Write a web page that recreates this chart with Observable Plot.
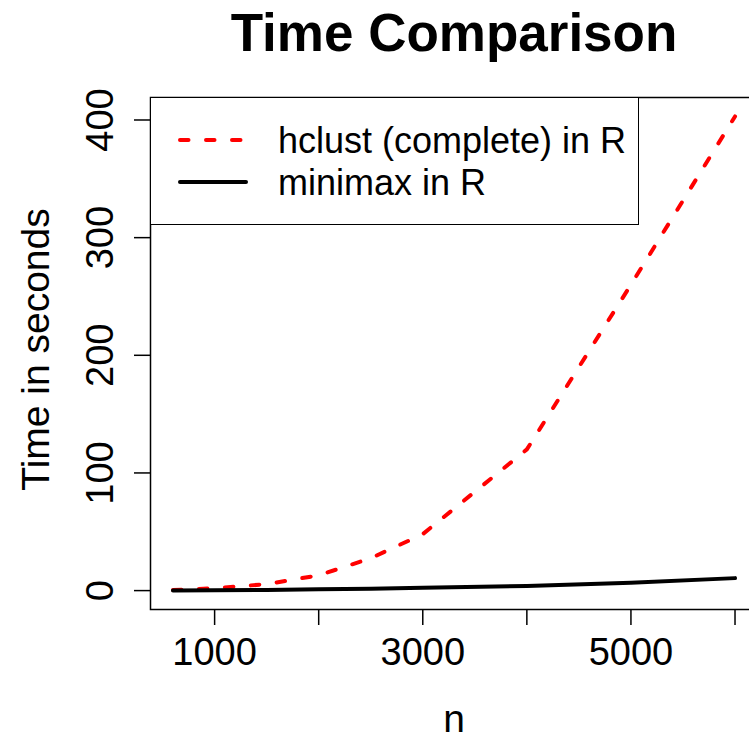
<!DOCTYPE html>
<html>
<head>
<meta charset="utf-8">
<script src="https://cdn.jsdelivr.net/npm/d3@7"></script>
<script src="https://cdn.jsdelivr.net/npm/@observablehq/plot@0.6"></script>
<style>
  body { margin: 0; background: #fff; }
  #wrap { position: relative; width: 749px; height: 738px; overflow: hidden;
          font-family: "Liberation Sans", Arial, Helvetica, sans-serif; background: #fff; }
  #legend { position: absolute; left: 150px; top: 97px; width: 489px; height: 128px;
            box-sizing: border-box; border: 1.5px solid #000; background: #fff; }
  #legend svg { display: block; }
</style>
</head>
<body>
<div id="wrap"><div id="chart"></div><div id="legend"></div></div>
<script>
// ---- data ----
const n = [600, 1000, 1500, 2000, 2500, 3000, 4000, 5000, 6000];
const hclustTime = [0.5, 2, 5.5, 13, 27.5, 48, 120, 260, 403];
const minimaxTime = [0.05, 0.3, 0.6, 1.1, 1.6, 2.4, 4.0, 6.6, 10.6];
const seriesNames = ["hclust (complete) in R", "minimax in R"];
const xTicks = [1000, 2000, 3000, 4000, 5000, 6000];
const xTickLabels = [1000, 3000, 5000];
const yTicks = [0, 100, 200, 300, 400];
const titleText = "Time Comparison";
const xLabel = "n";
const yLabel = "Time in seconds";

// ---- styles ----
const FONT = '"Liberation Sans", Arial, Helvetica, sans-serif';
const seriesStyle = [
  {stroke: "#ff0000", dash: "8.5,17.5"},
  {stroke: "#000000", dash: null}
];

const rows = n.flatMap((v, i) => [
  {n: v, t: hclustTime[i], s: seriesNames[0]},
  {n: v, t: minimaxTime[i], s: seriesNames[1]}
]);

function padded(ext) { const d = (ext[1] - ext[0]) * 0.04; return [ext[0] - d, ext[1] + d]; }
const xDom = padded(d3.extent(n));
const yDom = padded(d3.extent([...hclustTime, ...minimaxTime]));

const lineMarks = seriesNames.map((name, i) => Plot.line(rows.filter(r => r.s === name), {
  x: "n", y: "t",
  stroke: seriesStyle[i].stroke,
  strokeWidth: 4,
  strokeDasharray: seriesStyle[i].dash || undefined,
  strokeLinecap: "round",
  strokeLinejoin: "round"
}));

const chart = Plot.plot({
  width: 749,
  height: 738,
  marginLeft: 150,
  marginTop: 97,
  marginBottom: 129,
  marginRight: -8,
  style: {fontFamily: FONT, fontSize: "38px", color: "#000", background: "#fff", overflow: "hidden"},
  x: {domain: xDom},
  y: {domain: yDom},
  marks: [
    Plot.frame({stroke: "#000", strokeWidth: 1.5}),
    Plot.axisX(xTicks, {
      tickSize: 16, tickPadding: 13, strokeWidth: 1.5, fontSize: 38, label: null,
      tickFormat: d => xTickLabels.includes(d) ? String(d) : ""
    }),
    Plot.axisY(yTicks, {
      tickSize: 16, tickPadding: 22, tickRotate: -90, lineAnchor: "bottom", textAnchor: "middle",
      strokeWidth: 1.5, fontSize: 38, label: null,
      tickFormat: d => String(d)
    }),
    ...lineMarks,
    Plot.text([titleText], {text: d => d, frameAnchor: "top", dy: -47, lineAnchor: "bottom",
      fontSize: 53, fontWeight: "bold"}),
    Plot.text([xLabel], {text: d => d, frameAnchor: "bottom", dy: 122, lineAnchor: "bottom", fontSize: 39}),
    Plot.text([yLabel], {text: d => d, frameAnchor: "left", dx: -102, dy: -4, rotate: -90,
      textAnchor: "middle", lineAnchor: "bottom", fontSize: 39})
  ]
});
document.getElementById("chart").appendChild(chart);

// ---- legend (box anchored at the plot's top-left corner) ----
const lg = d3.select("#legend").append("svg").attr("width", 486).attr("height", 125);
seriesNames.forEach((name, i) => {
  const y = 42 + i * 42;
  lg.append("line")
    .attr("x1", 29).attr("x2", 95).attr("y1", y).attr("y2", y)
    .attr("stroke", seriesStyle[i].stroke).attr("stroke-width", 4)
    .attr("stroke-linecap", "round")
    .attr("stroke-dasharray", seriesStyle[i].dash);
  lg.append("text")
    .attr("x", 127).attr("y", y + 13)
    .attr("font-family", FONT).attr("font-size", 36).attr("fill", "#000")
    .text(name);
});
</script>
</body>
</html>
